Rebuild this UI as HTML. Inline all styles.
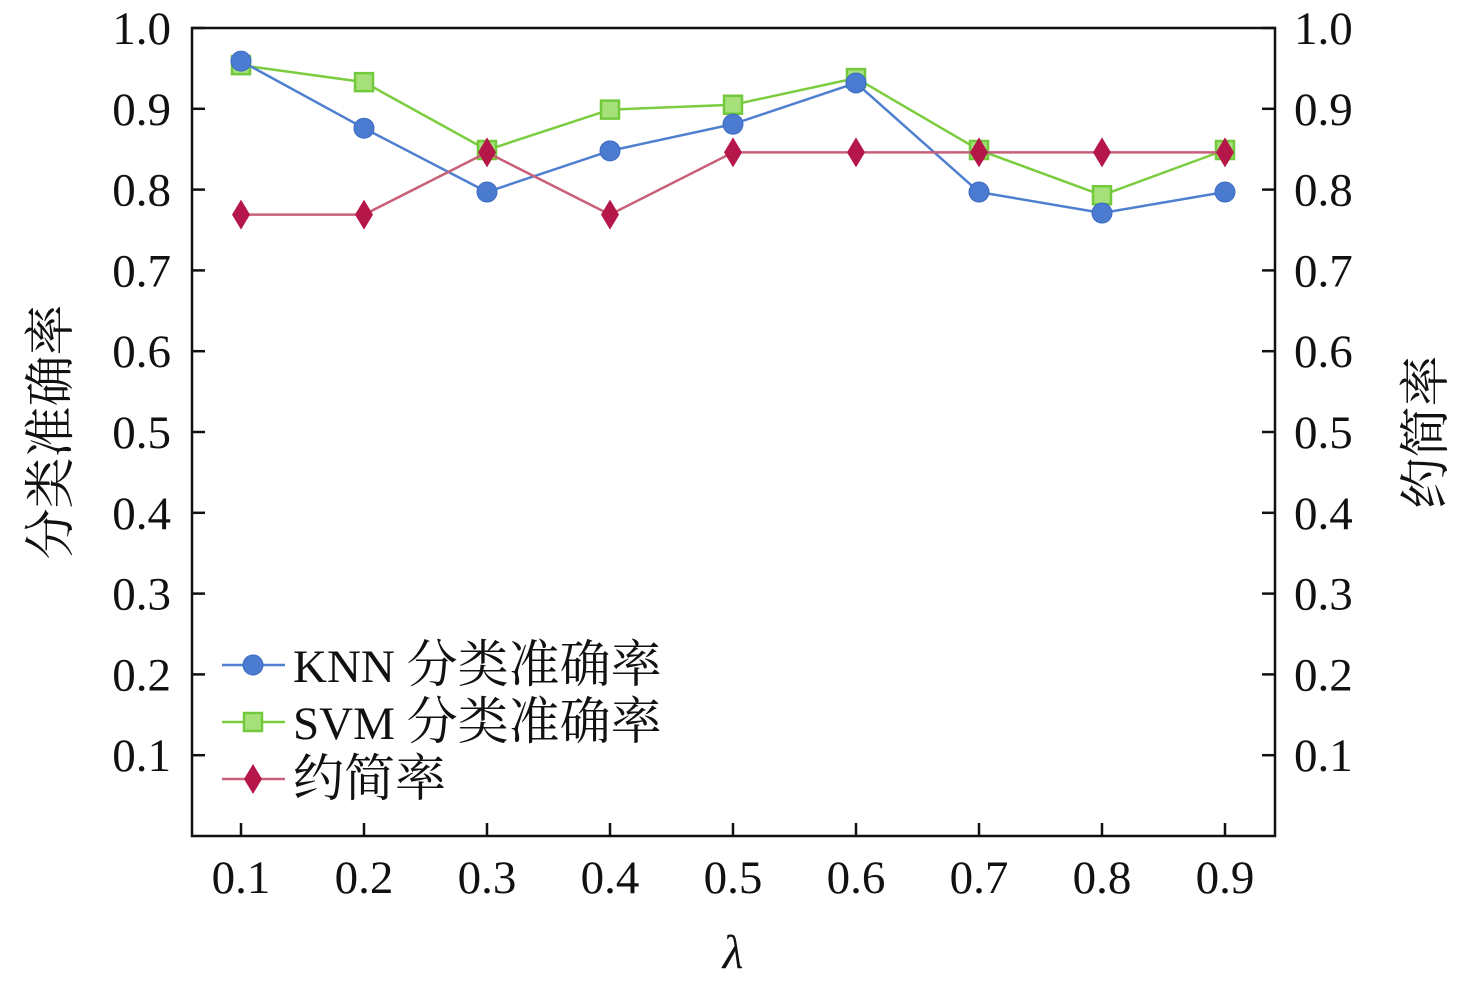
<!DOCTYPE html>
<html><head><meta charset="utf-8"><style>
html,body{margin:0;padding:0;background:#fff}
svg text{font-family:"Liberation Serif","Noto Serif CJK SC","Noto Sans CJK SC",serif;fill:#111}
</style></head><body>
<svg id="chart" width="1476" height="986" viewBox="0 0 1476 986" xmlns="http://www.w3.org/2000/svg"></svg>
<script>
const categories = [0.1,0.2,0.3,0.4,0.5,0.6,0.7,0.8,0.9];
const knnValues = [0.959,0.876,0.797,0.848,0.881,0.932,0.797,0.771,0.797];
const svmValues = [0.954,0.933,0.849,0.899,0.905,0.938,0.849,0.793,0.849];
const reductionValues = [0.769,0.769,0.846,0.769,0.846,0.846,0.846,0.846,0.846];
const yTicks = [0.1,0.2,0.3,0.4,0.5,0.6,0.7,0.8,0.9,1.0];

const svg = document.getElementById('chart');
const NS = 'http://www.w3.org/2000/svg';
const L=192,R=1275,T=28,B=836;
const xS = v => 241 + (v-0.1)/0.1*123;
const yS = v => B - v*(B-T);
function mk(tag, attrs, parent){const e=document.createElementNS(NS,tag);for(const k in attrs)e.setAttribute(k,attrs[k]);(parent||svg).appendChild(e);return e;}

const frame = mk('rect',{x:L,y:T,width:R-L,height:B-T,fill:'none',stroke:'#111','stroke-width':2.5});



yTicks.forEach(v=>{
  const y=yS(v);
  const t1=mk('line',{x1:L,x2:L+13,y1:y,y2:y,stroke:'#111','stroke-width':2.5});
  
  
  const t2=mk('line',{x1:R-13,x2:R,y1:y,y2:y,stroke:'#111','stroke-width':2.5});
  
  
  const a=mk('text',{x:171,y:y+16,'font-size':47,'text-anchor':'end'});a.textContent=v.toFixed(1);
  
  
  const b=mk('text',{x:1294,y:y+16,'font-size':47,'text-anchor':'start'});b.textContent=v.toFixed(1);
  
  
});
categories.forEach(c=>{
  const x=xS(c);
  const t=mk('line',{x1:x,x2:x,y1:B-13,y2:B,stroke:'#111','stroke-width':2.5});
  
  
  const l=mk('text',{x:x,y:893,'font-size':47,'text-anchor':'middle'});l.textContent=c.toFixed(1);
  
  
});
const xt=mk('text',{x:733,y:968,'font-size':48,'font-style':'italic','text-anchor':'middle'});xt.textContent='λ';


const yl=mk('text',{x:0,y:0,'font-size':51,'text-anchor':'middle',transform:'translate(68,432) rotate(-90)'});yl.textContent='分类准确率';


const yr=mk('text',{x:0,y:0,'font-size':51,'text-anchor':'middle',transform:'translate(1443,432) rotate(-90)'});yr.textContent='约简率';



function marker(kind,x,y,g){
  if(kind==='circle') return mk('circle',{cx:x,cy:y,r:10,fill:'#4a7bd0',stroke:'#3b6cc0','stroke-width':1},g);
  if(kind==='square') return mk('rect',{x:x-9,y:y-9,width:18,height:18,fill:'#a6e07a',stroke:'#72c93c','stroke-width':2.5},g);
  return mk('polygon',{points:`${x},${y-15} ${x+9},${y} ${x},${y+15} ${x-9},${y}`,fill:'#b5174a'},g);
}
function series(vals,line,kind,name){
  const g=mk('g',{});
  
  
  const p=mk('polyline',{points:vals.map((v,i)=>xS(categories[i])+','+yS(v)).join(' '),fill:'none',stroke:line,'stroke-width':2.5},g);
  
  
  vals.forEach((v,i)=>{const m=marker(kind,xS(categories[i]),yS(v),g);
    
    });
}
series(svmValues,'#7ccc3f','square','svm-series');
series(knnValues,'#4f80cf','circle','knn-series');
series(reductionValues,'#c8607a','diamond','reduction-series');

const legend=[['KNN ','分类准确率','#4f80cf','circle',665],['SVM ','分类准确率','#7ccc3f','square',722],['','约简率','#c8607a','diamond',779]];
legend.forEach(([t,cjk,c,k,y])=>{
  const g=mk('g',{});
  
  
  mk('line',{x1:222,x2:285,y1:y,y2:y,stroke:c,'stroke-width':2.5},g);
  marker(k,253,y,g);
  const tx=mk('text',{x:293,y:y+17,'font-size':47},g);
  if(t){const s1=mk('tspan',{},tx);s1.textContent=t;}
  const s2=mk('tspan',{'font-size':51},tx);s2.textContent=cjk;
});
</script>
</body></html>
